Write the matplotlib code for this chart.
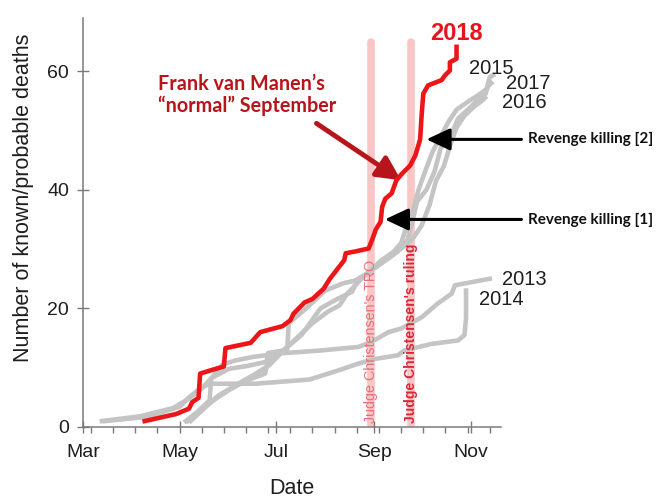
import matplotlib.pyplot as plt

plt.rcParams['font.family'] = ['Liberation Sans', 'DejaVu Sans']

# x values are days counted from March 1
days_2018 = [39, 59, 67, 69, 73, 74, 80, 89, 90, 106, 112, 126, 131, 133, 140, 145, 152, 156,
             165, 166, 172, 180.5, 183, 185, 188, 189, 191, 195, 198, 201.5, 206.7, 210, 213,
             214, 215, 218, 226.6, 228.7, 231.8, 231.8, 236, 236]
vals_2018 = [1.0, 2.2, 3.1, 4.2, 4.9, 9.0, 9.5, 10.2, 13.3, 14.2, 16, 17, 18, 19.1, 21, 21.6, 23.3, 25,
             28.1, 29.3, 29.6, 30.1, 31.8, 33.3, 34.6, 37.1, 38.5, 39.4, 41.6, 42.7, 44.1, 45.8, 48.5,
             52.8, 56.2, 57.6, 58.5, 59.3, 60.1, 61.5, 62.1, 64.1]

days_2013 = [12, 36, 57, 67, 75, 82, 88, 96, 107, 124, 150, 174, 182, 193, 201, 214, 224, 233, 235, 257]
vals_2013 = [1, 1.8, 3.2, 4.8, 6.5, 8.5, 10.5, 11.2, 11.8, 12.4, 12.9, 13.5, 14.3, 16, 16.6, 18.5,
             20.8, 22.5, 23.9, 25]

days_2014 = [14, 40, 61, 67, 74, 80, 109, 143, 162, 174, 185, 199, 203, 220, 237, 241, 242, 242]
vals_2014 = [1, 1.7, 3.4, 5.0, 6.5, 7.3, 7.3, 8.0, 9.6, 10.7, 11.5, 12.1, 12.9, 14.0, 14.6, 15.5,
             18.3, 23.0]

days_2015 = [65, 72, 80, 81, 92, 104, 116, 117, 129, 130, 141, 153, 164, 172, 180, 188, 196, 201,
             204, 208, 212, 216, 221, 226, 231, 236, 244, 250, 255, 257, 259]
vals_2015 = [1, 2.5, 4.5, 8.2, 9.8, 10.3, 11, 12.5, 13, 17.5, 20, 23, 24.2, 24.7, 26, 28, 29.5, 31,
             33.5, 36, 40, 43, 46.5, 49, 51.5, 53.5, 55, 56, 57, 59, 59.3]

days_2016 = [66, 74, 83, 92, 103, 115, 117, 126, 138, 150, 160, 170, 173, 180, 188, 196, 203, 209,
             214, 219, 223, 228, 232, 236, 241, 247, 252, 254]
vals_2016 = [1, 2.8, 4.6, 6.2, 7.8, 9, 11.3, 12.8, 15.5, 20, 21.5, 22.8, 24.5, 26, 27.5, 29, 30.5,
             32, 34, 37.5, 41.5, 44, 47.5, 50.5, 52.5, 54, 55, 55.5]

days_2017 = [68, 76, 85, 96, 108, 118, 127, 135, 145, 155, 162, 167, 176, 185, 193, 200, 205, 208,
             211, 217, 222, 226, 232, 237, 243, 249, 254, 256, 258]
vals_2017 = [1, 3, 5.2, 7, 8.8, 10.5, 13, 15, 17.5, 19.5, 20.5, 22.5, 25, 27, 28.5, 30, 31.5, 34.5,
             38, 40, 43, 47, 49, 52, 53.5, 55, 56, 57.5, 58]

month_ticks = [0, 61, 122, 184, 245]
month_labels = ["Mar", "May", "Jul", "Sep", "Nov"]

tro_day = 182
ruling_day = 207

fig = plt.figure(figsize=(6.56, 4.99), dpi=100)
ax = fig.add_axes([0.1265, 0.1443, 0.637, 0.82])

gray = "#c4c4c4"
for d, v in [(days_2013, vals_2013), (days_2014, vals_2014), (days_2015, vals_2015),
             (days_2016, vals_2016), (days_2017, vals_2017)]:
    ax.plot(d, v, color=gray, lw=3.3, zorder=2)

# court dates
for d in [tro_day, ruling_day]:
    ax.plot([d, d], [0.3, 65], color="#f9c6c6", lw=5.5, solid_capstyle="round", zorder=1)
ax.text(tro_day, 0.7, "Judge Christensen's TRO", rotation=90, ha="center", va="bottom",
        fontsize=10.3, color="#ea6e78", zorder=3)
ax.text(ruling_day, 0.7, "Judge Christensen's ruling", rotation=90, ha="center", va="bottom",
        fontsize=10, fontweight="bold", color="#d8283a", zorder=3)

ax.plot(days_2018, vals_2018, color="#ec1518", lw=3.3, zorder=4)

# year labels
ax.text(236, 66.3, "2018", color="#e8141c", fontsize=17, fontweight="bold",
        ha="center", va="center", clip_on=False)
year_col = "#1e1e1e"
ax.text(258, 60.5, "2015", color=year_col, fontsize=14.5, ha="center", va="center", clip_on=False)
ax.text(281.5, 58.0, "2017", color=year_col, fontsize=14.5, ha="center", va="center", clip_on=False)
ax.text(279, 54.7, "2016", color=year_col, fontsize=14.5, ha="center", va="center", clip_on=False)
ax.text(279, 24.9, "2013", color=year_col, fontsize=14.5, ha="center", va="center", clip_on=False)
ax.text(264, 21.5, "2014", color=year_col, fontsize=14.5, ha="center", va="center", clip_on=False)

# annotations
ax.text(47.3, 56.0, "Frank van Manen\u2019s\n\u201cnormal\u201d September", family="Lato",
        fontweight="bold", fontsize=14.2, color="#b8141c", ha="left", va="center", linespacing=1.1)
ax.annotate("", xy=(201, 41.6), xytext=(147.5, 51.2),
            arrowprops=dict(arrowstyle="-|>,head_length=0.8,head_width=0.4", lw=3.5,
                            color="#b8141c", shrinkA=0, shrinkB=0, mutation_scale=18))

for y, tip, label in [(48.5, 217, "Revenge killing [2]"), (35.0, 190.7, "Revenge killing [1]")]:
    ax.annotate("", xy=(tip, y), xytext=(277, y), annotation_clip=False,
                arrowprops=dict(arrowstyle="-|>,head_length=0.9,head_width=0.42", lw=2.2,
                                color="black", shrinkA=0, shrinkB=0, mutation_scale=16))
    ax.text(281, y, label, family="Lato", fontweight="bold", fontsize=11, color="#111111",
            ha="left", va="center", clip_on=False)

ax.set_xlim(0, 264)
ax.set_ylim(0, 69)
ax.set_xticks(month_ticks)
ax.set_xticklabels(month_labels)
ax.set_xticks(list(range(5, 264, 14)), minor=True)
ax.set_yticks([0, 20, 40, 60])

for s in ["top", "right"]:
    ax.spines[s].set_visible(False)
for s in ["left", "bottom"]:
    ax.spines[s].set_color("#7a7a7a")
    ax.spines[s].set_linewidth(1.1)
ax.tick_params(which="major", direction="inout", length=8, width=1, color="#7a7a7a",
               labelsize=14, labelcolor="#1e1e1e")
ax.tick_params(axis="x", which="major", pad=8)
ax.tick_params(axis="y", which="major", pad=6)
ax.tick_params(which="minor", direction="out", length=4, width=1, color="#7a7a7a")

ax.set_xlabel("Date", fontsize=15.5, color="#1e1e1e")
ax.set_ylabel("Number of known/probable deaths", fontsize=15.5, color="#1e1e1e")
ax.xaxis.set_label_coords(0.5, -0.124)
ax.yaxis.set_label_coords(-0.118, 0.561)

fig.savefig("out.png", dpi=100)
